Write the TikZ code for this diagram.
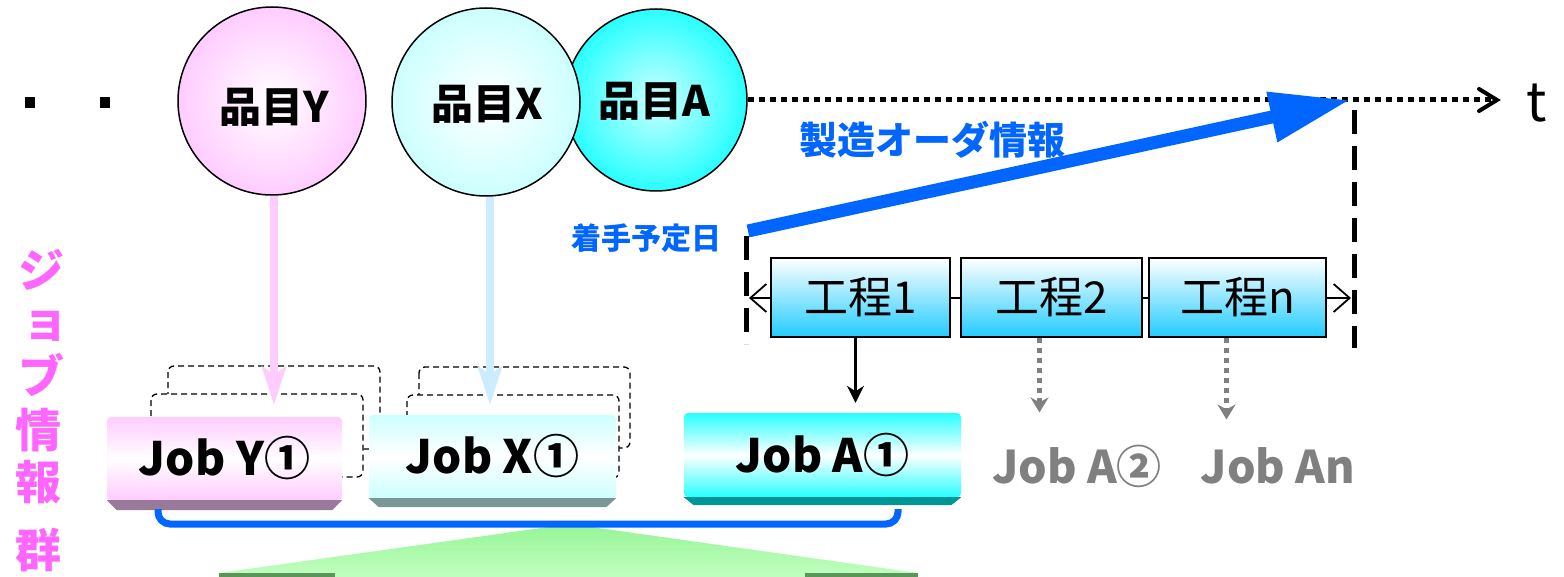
\documentclass[tikz,border=0pt]{standalone}
\usepackage{fontspec}
\newfontfamily\jp{Noto Sans CJK JP}
\usetikzlibrary{arrows.meta,shadings}
\definecolor{pinkA}{RGB}{255,204,255}
\definecolor{cyanL}{RGB}{204,255,255}
\definecolor{cyanA}{RGB}{40,255,255}
\definecolor{procB}{RGB}{34,204,255}
\definecolor{bluelink}{RGB}{204,236,255}
\definecolor{ordblue}{RGB}{0,102,255}
\definecolor{magentaT}{RGB}{255,102,255}
\definecolor{bevY}{RGB}{154,122,154}
\definecolor{bevX}{RGB}{122,150,150}
\definecolor{bevA}{RGB}{0,150,150}
\definecolor{greenT}{RGB}{150,245,150}
\definecolor{greenB}{RGB}{195,255,195}
\definecolor{greenD}{RGB}{90,150,90}
\definecolor{grayT}{RGB}{128,128,128}
\tikzset{
  item/.style={circle,draw=black,line width=1.5pt,minimum size=#1,inner sep=0pt},
  itemtext/.style={font=\jp\bfseries\fontsize{42}{48}\selectfont,inner sep=0pt},
  proc/.style={draw=black,line width=1.8pt,top color=white,bottom color=procB,minimum height=79pt,inner sep=0pt,font=\jp\fontsize{44}{48}\selectfont},
  jobface/.style={rounded corners=4pt,minimum height=83pt,inner sep=0pt,font=\jp\bfseries\fontsize{46}{48}\selectfont},
  shadowbox/.style={draw=black,fill=white,line width=1.3pt,rounded corners=6pt,dash pattern=on 6pt off 4pt},
  timeaxis/.style={line width=5pt,dash pattern=on 6pt off 5pt},
  vdash/.style={line width=5pt,dash pattern=on 24pt off 12pt},
  vtext/.style={text=magentaT,font=\jp\bfseries\fontsize{46}{50}\selectfont,inner sep=0pt},
  bluetext/.style={text=ordblue,font=\jp\bfseries\fontsize{#1}{#1}\selectfont,inner sep=0pt},
  graytext/.style={text=grayT,font=\jp\bfseries\fontsize{45}{48}\selectfont,inner sep=0pt},
  linkarrow/.style={line width=8pt,-{Stealth[length=38pt,width=24pt,inset=8pt]}},
}
\begin{document}
\begin{tikzpicture}[x=1pt,y=-1pt]
\useasboundingbox (0,0) rectangle (1564,577);
% dots
\fill (25,97) rectangle (35,108);
\fill (100,97) rectangle (110,108);
% time axis
\coordinate (ax0) at (748,100);
\coordinate (ax1) at (1494,100);
\draw[timeaxis] (ax0) -- (ax1);
\draw[line width=4pt,line cap=round,line join=miter] (1479,89) -- (1497,100) -- (1479,111);
\node[font=\jp\fontsize{54}{56}\selectfont,inner sep=0pt] (t) at (1537,103) {t};
% circles
\node[item=182pt,shading=radial,inner color=cyanL,outer color=cyanA] (cA) at (656,100) {};
\node[itemtext] (lA) at (654,101) {品目A};
\node[item=188pt,shading=radial,inner color=white,outer color=pinkA] (cY) at (272,101) {};
\node[itemtext] (lY) at (274,107) {品目Y};
\node[item=188pt,shading=radial,inner color=white,outer color=cyanL] (cX) at (486,102) {};
\node[itemtext] (lX) at (487,104) {品目X};
% big order arrow
\coordinate (o0) at (748,231);
\coordinate (o1) at (1350,100);
\draw[ordblue,line width=13pt,-{Triangle[length=80pt,width=48pt]}] (o0) -- (o1);
\node[bluetext=38] (ord) at (932,140) {製造オーダ情報};
\node[bluetext=30] (start) at (646,238) {着手予定日};
% vertical dashed lines
\coordinate (dl0) at (746,236);
\coordinate (dl1) at (746,344);
\coordinate (dr0) at (1354,110);
\coordinate (dr1) at (1354,348);
\draw[vdash] (dl0) -- (dl1);
\draw[vdash] (dr0) -- (dr1);
% process line
\coordinate (pl0) at (749,298);
\coordinate (pl1) at (1351,298);
\draw[line width=1.8pt,{Straight Barb[length=16pt,width=28pt]}-{Straight Barb[length=16pt,width=28pt]}] (pl0) -- (pl1);
\node[proc,minimum width=179pt] (p1) at (860.5,297.5) {工程1};
\node[proc,minimum width=181pt] (p2) at (1051.5,297.5) {工程2};
\node[proc,minimum width=177pt] (pn) at (1237.5,297.5) {工程n};
% Job Y
\draw[shadowbox] (168,366) rectangle (380,449);
\draw[shadowbox] (151,394) rectangle (363,477);
\node[jobface,minimum width=235pt,top color=pinkA,bottom color=pinkA,middle color=white] (jy) at (224.5,458.5) {\raisebox{-4pt}{Job Y①}};
\fill[bevY] (jy.south west) -- (jy.south east) -- ([xshift=-10pt,yshift=-10pt]jy.south east) -- ([xshift=10pt,yshift=-10pt]jy.south west) -- cycle;
% Job X
\draw[shadowbox] (419,367) rectangle (630,448);
\draw[shadowbox] (407,395) rectangle (619,478);
\node[jobface,minimum width=247pt,top color=cyanL,bottom color=cyanL,middle color=white] (jx) at (492.5,456.5) {\raisebox{-4pt}{Job X①}};
\fill[bevX] (jx.south west) -- (jx.south east) -- ([xshift=-10pt,yshift=-9pt]jx.south east) -- ([xshift=10pt,yshift=-9pt]jx.south west) -- cycle;
% Job A
\node[jobface,minimum width=277pt,minimum height=84pt,top color=cyanA,bottom color=cyanA,middle color=white] (ja) at (822.5,455) {\raisebox{-4pt}{Job A①}};
\fill[bevA] (ja.south west) -- (ja.south east) -- ([xshift=-10pt,yshift=-8pt]ja.south east) -- ([xshift=10pt,yshift=-8pt]ja.south west) -- cycle;
\node[graytext] (ja2) at (1077,466) {Job A②};
\node[graytext] (jan) at (1278,466) {Job An};
% links from circles
\draw[pinkA,linkarrow,shorten >=12pt] ([xshift=2pt]cY.south) -- ([xshift=2pt]cY.south |- jy.north);
\draw[bluelink,linkarrow,shorten >=10pt] ([xshift=4pt]cX.south) -- ([xshift=4pt]cX.south |- jx.north);
% process to jobs
\draw[line width=3pt,-{Stealth[length=17pt,width=17pt]},shorten >=10pt] ([xshift=-5pt]p1.south) -- ([xshift=-5pt]p1.south |- ja.north);
\draw[grayT,line width=5pt,dash pattern=on 5pt off 5pt,-{Stealth[length=15pt,width=18pt]},shorten >=32pt] ([xshift=-12pt]p2.south) -- ([xshift=-12pt]p2.south |- ja2.north);
\draw[grayT,line width=5pt,dash pattern=on 5pt off 5pt,-{Stealth[length=15pt,width=18pt]},shorten >=28pt] ([xshift=-11pt]pn.south) -- ([xshift=-11pt]pn.south |- jan.north);
% green callout
\coordinate (g0) at (570,524);
\shade[top color=greenT,bottom color=greenB] (g0) -- (219,573) -- (219,580) -- (918,580) -- (918,573) -- cycle;
\fill[greenD] (219,573) rectangle (335,580);
\fill[greenD] (805,573) rectangle (918,580);
% bracket
\coordinate (br0) at (158,509);
\coordinate (br1) at (898,509);
\draw[ordblue,line width=7pt,rounded corners=12pt] (br0) |- (g0) -| (br1);
% vertical text
\node[vtext] (v1) at (42,270) {ジ};
\node[vtext] (v2) at (45,326) {ョ};
\node[vtext] (v3) at (42,375) {ブ};
\node[vtext] (v4) at (39,430) {情};
\node[vtext] (v5) at (39,482) {報};
\node[vtext] (v6) at (39,550) {群};
\end{tikzpicture}
\end{document}
